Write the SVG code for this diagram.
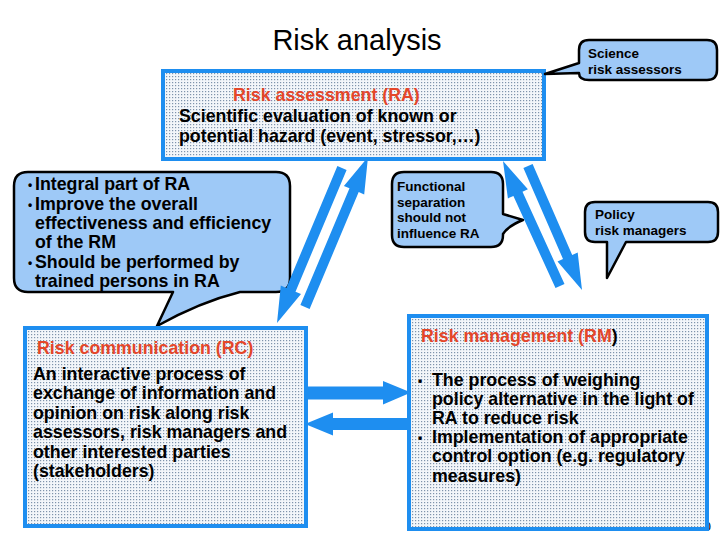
<svg xmlns="http://www.w3.org/2000/svg" width="720" height="540" viewBox="0 0 720 540">
<defs>
<pattern id="dots" width="3" height="3" patternUnits="userSpaceOnUse">
<rect width="3" height="3" fill="#f3f6fa"/>
<rect x="1" y="1" width="1.2" height="1.2" fill="#7f93ab"/>
</pattern>
<style>
.box{fill:url(#dots);stroke:#1e8ef0;stroke-width:4}
.call{fill:#9ec9f7;stroke:#000;stroke-width:2.5;stroke-linejoin:round}
.arrow{fill:#1e8ef0;stroke:none}
text{font-family:"Liberation Sans",Arial,sans-serif;font-weight:bold;fill:#000}
.t{font-size:17.8px}
.s{font-size:13.5px}
.b{font-size:12px}
.red{fill:#e4462a}
</style>
</defs>
<rect width="720" height="540" fill="#fff"/>
<text x="357" y="50" text-anchor="middle" style="font-size:29px;font-weight:normal">Risk analysis</text>
<text x="711" y="531" text-anchor="end" style="font-size:13px;font-weight:normal">10</text>

<g id="ra">
<rect class="box" x="163" y="71" width="381" height="88"/>
<text class="t red" x="233" y="101">Risk assessment (RA)</text>
<text class="t" x="179" y="122">Scientific evaluation of known or</text>
<text class="t" x="179" y="142">potential hazard (event, stressor,…)</text>
</g>

<g id="science">
<path class="call" d="M589,40 H707 Q717,40 717,50 V70 Q717,80 707,80 H589 Q579,80 579,73 L545,74 L579,63 V50 Q579,40 589,40 Z"/>
<text class="s" x="588" y="58">Science</text>
<text class="s" x="588" y="74">risk assessors</text>
</g>

<g id="bullets">
<path class="call" d="M28,172 H276 Q290,172 290,186 V278 Q290,292 276,292 H240 Q200,302 157,326 L173,292 H28 Q14,292 14,278 V186 Q14,172 28,172 Z"/>
<text class="b" x="28" y="189">•</text>
<text class="t" x="35" y="190">Integral part of RA</text>
<text class="b" x="28" y="209">•</text>
<text class="t" x="35" y="210">Improve the overall</text>
<text class="t" x="35" y="229">effectiveness and efficiency</text>
<text class="t" x="35" y="248">of the RM</text>
<text class="b" x="28" y="267">•</text>
<text class="t" x="35" y="268">Should be performed by</text>
<text class="t" x="35" y="287">trained persons in RA</text>
</g>

<g id="functional">
<path class="call" d="M404,172 H491 Q503,172 503,184 V214 L523,220 Q508,226 503,234 V235 Q503,247 491,247 H404 Q392,247 392,235 V184 Q392,172 404,172 Z"/>
<text class="s" x="397" y="191">Functional</text>
<text class="s" x="397" y="207">separation</text>
<text class="s" x="397" y="222">should not</text>
<text class="s" x="397" y="238">influence RA</text>
</g>

<g id="policy">
<path class="call" d="M595,202 H708 Q718,202 718,212 V232 Q718,242 708,242 H626 L607,278 L607,242 H595 Q585,242 585,232 V212 Q585,202 595,202 Z"/>
<text class="s" x="595" y="219">Policy</text>
<text class="s" x="595" y="235">risk managers</text>
</g>

<g id="rc">
<rect class="box" x="25" y="328" width="281" height="198"/>
<text class="t red" x="37" y="354">Risk communication (RC)</text>
<text class="t" x="33" y="380">An interactive process of</text>
<text class="t" x="33" y="399">exchange of information and</text>
<text class="t" x="33" y="419">opinion on risk along risk</text>
<text class="t" x="33" y="438">assessors, risk managers and</text>
<text class="t" x="33" y="458">other interested parties</text>
<text class="t" x="33" y="477">(stakeholders)</text>
</g>

<g id="rm">
<rect class="box" x="409" y="316" width="298" height="213"/>
<text class="t" x="421" y="342"><tspan class="red">Risk management (RM</tspan>)</text>
<text class="b" x="418" y="385">•</text>
<text class="t" x="432" y="386">The process of weighing</text>
<text class="t" x="432" y="405">policy alternative in the light of</text>
<text class="t" x="432" y="424">RA to reduce risk</text>
<text class="b" x="418" y="442">•</text>
<text class="t" x="432" y="443">Implementation of appropriate</text>
<text class="t" x="432" y="462">control option (e.g. regulatory</text>
<text class="t" x="432" y="482">measures)</text>
</g>

<g id="connectors">
<polygon class="arrow" points="346.6,169.9 295.5,291.7 301.0,294.1 277,323 280.8,285.5 286.3,287.9 337.4,166.1"/>
<polygon class="arrow" points="309.6,308.9 358.7,192.1 364.2,194.5 368,157 343.9,185.9 349.5,188.3 300.4,305.1"/>
<polygon class="arrow" points="564.5,283.9 522.5,191.7 527.9,189.2 503,161 507.9,198.4 513.4,195.9 555.5,288.1"/>
<polygon class="arrow" points="532.6,164.0 572.2,255.0 577.7,252.6 582,290 557.5,261.4 563.0,259.0 523.4,168.0"/>
<polygon class="arrow" points="307,386.5 383,386.5 383,381 411,392.5 383,404.5 383,399.5 307,399.5"/>
<polygon class="arrow" points="407,418 333,418 333,412.5 305,424 333,435.5 333,430 407,430"/>
</g>
</svg>
